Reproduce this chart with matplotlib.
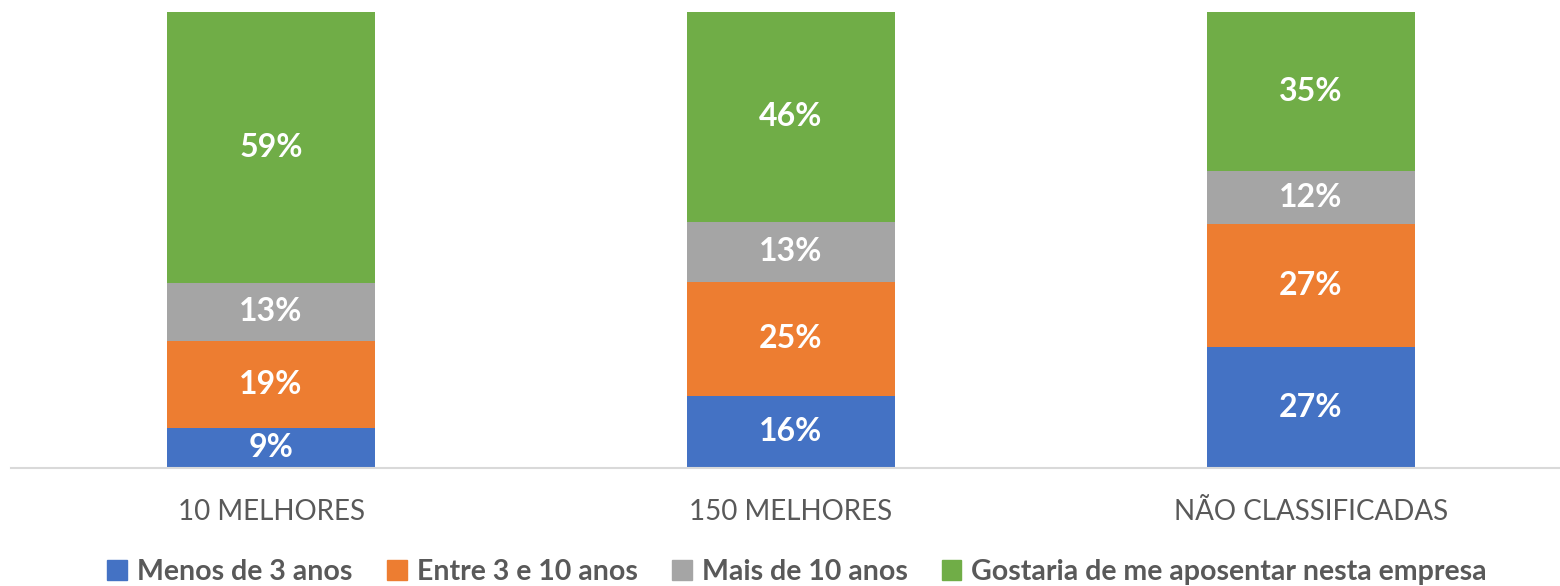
import matplotlib.pyplot as plt
from matplotlib.patches import Patch

plt.rcParams['font.family'] = ['Lato', 'DejaVu Sans']

# data
categories = ['10 MELHORES', '150 MELHORES', 'NÃO CLASSIFICADAS']
series = ['Menos de 3 anos', 'Entre 3 e 10 anos', 'Mais de 10 anos',
          'Gostaria de me aposentar nesta empresa']
menos_3 = [8.8, 15.8, 26.6]
entre_3_10 = [19.1, 25.0, 26.8]
mais_10 = [12.7, 13.2, 11.8]
aposentar = [59.4, 46.0, 34.8]
colors = ['#4472C4', '#ED7D31', '#A5A5A5', '#70AD47']

fig = plt.figure(figsize=(15.6, 5.86), dpi=100)
ax = fig.add_axes([11/1560, 118/586, 1.0, 456/586])

x = list(range(len(categories)))
bottom = [0, 0, 0]
for vals, col in zip([menos_3, entre_3_10, mais_10, aposentar], colors):
    bars = ax.bar(x, vals, width=0.4, bottom=bottom, color=col)
    for b, v in zip(bars, vals):
        ax.text(b.get_x() + b.get_width()/2, b.get_y() + b.get_height()/2,
                '%.0f%%' % v, ha='center', va='center', color='white',
                fontsize=23, fontweight='bold')
    bottom = [b0 + v for b0, v in zip(bottom, vals)]

ax.set_xlim(-0.5, 2.5)
ax.set_ylim(0, 100)
for s in ['top', 'right', 'left']:
    ax.spines[s].set_visible(False)
ax.spines['bottom'].set_color('#d9d9d9')
ax.spines['bottom'].set_linewidth(1.5)
ax.set_yticks([])
ax.set_xticks(x)
ax.set_xticklabels(categories, fontsize=20, color='#595959')
ax.tick_params(axis='x', length=0, pad=22)

handles = [Patch(color=c, label=s) for c, s in zip(colors, series)]
leg = fig.legend(handles=handles, loc='center', bbox_to_anchor=(0.511, 0.024),
                 ncol=4, frameon=False, handlelength=0.7, handleheight=0.7,
                 handletextpad=0.35, columnspacing=1.2,
                 prop={'size': 20.5, 'weight': 'bold'})
for t in leg.get_texts():
    t.set_color('#595959')

fig.savefig('out.png', dpi=100)
